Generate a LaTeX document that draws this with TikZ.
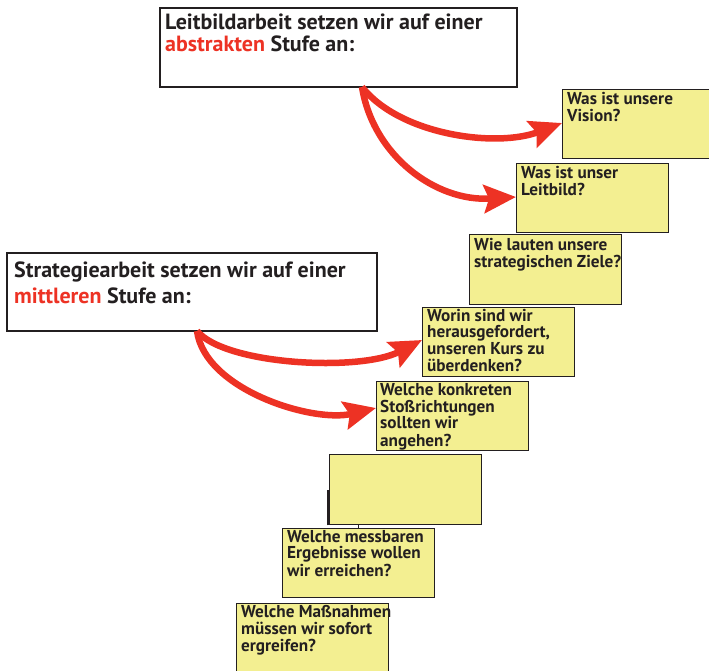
\documentclass[tikz,border=0pt]{standalone}
\usepackage{fontspec}
\setmainfont{PT Sans}
\usetikzlibrary{arrows.meta}
\definecolor{ared}{RGB}{237,50,36}
\definecolor{yfill}{RGB}{243,239,145}
\definecolor{bline}{RGB}{35,31,32}
\newcommand{\tl}[1]{\begin{tabular}[t]{@{}l@{}}#1\end{tabular}}
\tikzset{
  wbox/.style={draw=bline, line width=1.7pt, fill=white, anchor=north west, inner sep=0pt, minimum width=#1},
  ybox/.style={draw=bline, line width=1.4pt, fill=yfill, anchor=north west, inner sep=0pt, minimum width=152pt, minimum height=69pt},
  bigtext/.style={anchor=base west, inner sep=0pt, text=bline, font=\bfseries\fontsize{22}{#1}\selectfont},
  smalltext/.style={anchor=base west, inner sep=0pt, text=bline, font=\bfseries\fontsize{17.2}{15.8}\selectfont},
  redarrow/.style={draw=ared, line width=6.5pt, -{Stealth[length=32pt,width=28pt,inset=5pt]}}
}
\begin{document}
\begin{tikzpicture}[x=1pt,y=-1pt]
\useasboundingbox (0,0) rectangle (709,670);
% white boxes
\node[wbox=357pt, minimum height=79pt] (top) at (159,7) {};
\node[bigtext=21pt] (toptext) at (165,29) {\tl{Leitbildarbeit setzen wir auf einer\\{\color{ared}abstrakten} Stufe an:}};
\node[wbox=370pt, minimum height=78pt] (strat) at (6,252) {};
\node[bigtext=26.5pt] (strattext) at (14,277) {\tl{Strategiearbeit setzen wir auf einer\\{\color{ared}mittleren} Stufe an:}};
% yellow boxes
\node[ybox] (vision) at (562,89) {};
\node[smalltext] (visiont) at (567,104) {\tl{Was ist unsere\\Vision?}};
\node[ybox] (leitbild) at (516,163) {};
\node[smalltext] (leitbildt) at (521,178) {\tl{Was ist unser\\Leitbild?}};
\node[ybox, minimum height=70pt] (ziele) at (469,234) {};
\node[smalltext] (zielet) at (474,250) {\tl{Wie lauten unsere\\strategischen Ziele?}};
\node[ybox] (worin) at (422,307) {};
\node[smalltext] (worint) at (427,321) {\tl{Worin sind wir\\herausgefordert,\\unseren Kurs zu\\überdenken?}};
\node[ybox] (stoss) at (376,381) {};
\node[smalltext] (stosst) at (380,395) {\tl{Welche konkreten\\Stoßrichtungen\\sollten wir\\angehen?}};
\node[ybox, minimum height=70pt] (empty) at (329,454) {};
\node[ybox] (messbar) at (282,528) {};
\node[smalltext] (messbart) at (287,542) {\tl{Welche messbaren\\Ergebnisse wollen\\wir erreichen?}};
\node[ybox, minimum height=80pt] (massn) at (236,603) {};
\node[smalltext] (massnt) at (241,617) {\tl{Welche Maßnahmen\\müssen wir sofort\\ergreifen?}};
% small artefact strokes
\draw[bline, line width=1.6pt] ([xshift=-1pt]empty.south west) -- ++(0,-35);
\draw[bline, line width=1pt] ([xshift=29pt]empty.south west) -- ([xshift=76pt]messbar.north west);
% arrows
\coordinate (ts) at (362,87);
\coordinate (ss) at (197,331);
\draw[redarrow] (ts) .. controls (400,135) and (496,148) .. (vision.west |- 0,123);
\draw[redarrow] (ts) .. controls (373,155) and (435,202) .. (leitbild.west |- 0,197);
\draw[redarrow] (ss) .. controls (225,365) and (360,372) .. (worin.west |- 0,340);
\draw[redarrow] (ss) .. controls (205,390) and (313,423) .. (stoss.west |- 0,408);
\end{tikzpicture}
\end{document}
